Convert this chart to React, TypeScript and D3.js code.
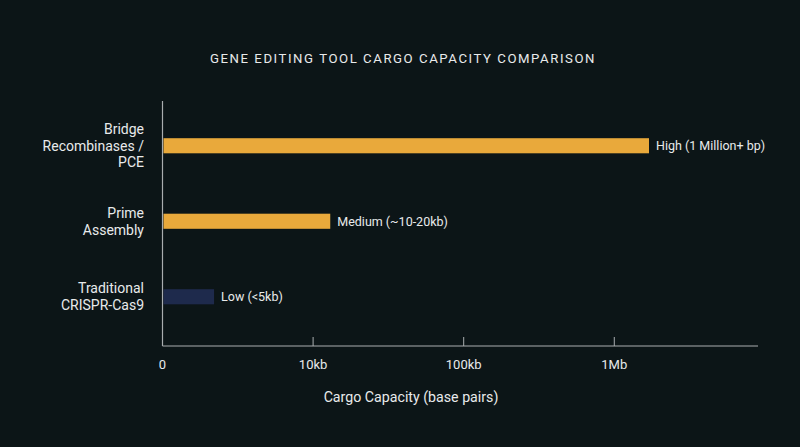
import React from "react";
import * as d3 from "d3";

const categories = ["Bridge Recombinases / PCE", "Prime Assembly", "Traditional CRISPR-Cas9"];
const categoryLines = [["Bridge", "Recombinases /", "PCE"], ["Prime", "Assembly"], ["Traditional", "CRISPR-Cas9"]];
const values = [1700000, 13000, 2200];
const valueLabels = ["High (1 Million+ bp)", "Medium (~10-20kb)", "Low (<5kb)"];
const barColors = ["#E9A93B", "#E9A93B", "#1E2A4C"];
const tickValues = [1000, 10000, 100000, 1000000];
const tickLabels = ["0", "10kb", "100kb", "1Mb"];

const W = 800;
const H = 447;
const BG = "#0C1517";
const TEXT = "#E8EAEB";
const AXIS = "#A9ADAF";

export default function App() {
  const x = d3.scaleLog().domain([1000, 9000000]).range([162.5, 758]);
  const y = d3.scaleBand<string>().domain(categories).range([108, 334.5]).paddingInner(0.8).paddingOuter(0.4);
  const axisY = 346;
  const font = "Roboto, 'Noto Sans', sans-serif";
  return (
    <div style={{ position: "fixed", left: 0, top: 0, width: W, height: H, background: BG }}>
      <svg width={W} height={H} style={{ display: "block" }} fontFamily={font}>
        <rect x={0} y={0} width={W} height={H} fill={BG} />
        <text x={403} y={62.5} textAnchor="middle" fill={TEXT} fontSize={13.2} letterSpacing={1.55}>
          GENE EDITING TOOL CARGO CAPACITY COMPARISON
        </text>
        {categories.map((c, i) => {
          const yy = y(c)!;
          const bw = y.bandwidth();
          const x1 = x(values[i]);
          const lines = categoryLines[i];
          const lh = 16.8;
          const cy = yy + bw / 2;
          return (
            <g key={c}>
              <rect x={163.5} y={yy} width={x1 - 163.5} height={bw} fill={barColors[i]} />
              <text x={x1 + 7} y={cy} dy="0.35em" fill={TEXT} fontSize={12.5}>
                {valueLabels[i]}
              </text>
              {lines.map((l, j) => (
                <text
                  key={j}
                  x={144}
                  y={cy + (j - (lines.length - 1) / 2) * lh}
                  dy="0.35em"
                  textAnchor="end"
                  fill={TEXT}
                  fontSize={14}
                >
                  {l}
                </text>
              ))}
            </g>
          );
        })}
        <line x1={162.5} x2={162.5} y1={101} y2={axisY} stroke={AXIS} strokeWidth={1.2} />
        <line x1={162.5} x2={758} y1={axisY} y2={axisY} stroke={AXIS} strokeWidth={1.2} />
        {tickValues.map((t, i) => (
          <g key={t}>
            {i > 0 && <line x1={x(t)} x2={x(t)} y1={axisY} y2={axisY - 9} stroke={AXIS} strokeWidth={1} />}
            <text x={x(t)} y={364} dy="0.35em" textAnchor="middle" fill={TEXT} fontSize={13}>
              {tickLabels[i]}
            </text>
          </g>
        ))}
        <text x={411} y={397} dy="0.35em" textAnchor="middle" fill={TEXT} fontSize={14.2}>
          Cargo Capacity (base pairs)
        </text>
      </svg>
    </div>
  );
}
